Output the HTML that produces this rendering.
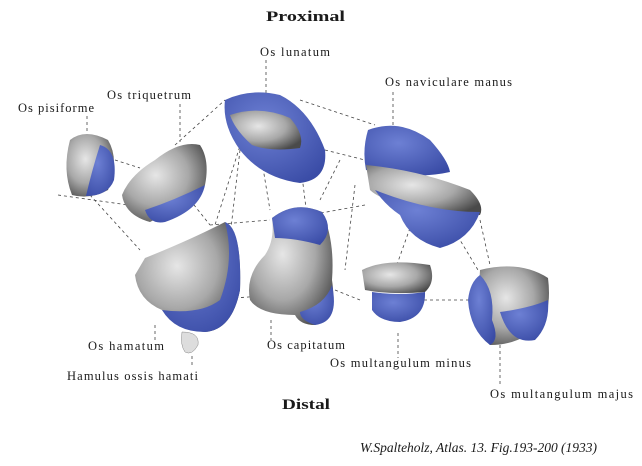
<!DOCTYPE html>
<html><head><style>
body{margin:0;background:#fff;}
svg{display:block}
text{font-family:"Liberation Serif",serif;font-size:12.5px;fill:#1a1a1a}
</style></head><body>
<svg width="642" height="466" viewBox="0 0 642 466">
<defs>
<radialGradient id="g" cx="40%" cy="40%" r="70%"><stop offset="0" stop-color="#e6e6e6"/><stop offset="0.55" stop-color="#a8a8a8"/><stop offset="1" stop-color="#4a4a4a"/></radialGradient>
<radialGradient id="b" cx="40%" cy="35%" r="75%"><stop offset="0" stop-color="#6d80d4"/><stop offset="1" stop-color="#3a4ca6"/></radialGradient>
</defs>
<text x="266" y="21" textLength="79" lengthAdjust="spacingAndGlyphs" style="font-weight:bold;font-size:15px">Proximal</text>
<text x="282" y="409" textLength="48" lengthAdjust="spacingAndGlyphs" style="font-weight:bold;font-size:15px">Distal</text>
<text x="360" y="452" textLength="237" lengthAdjust="spacingAndGlyphs" style="font-style:italic;font-size:13.5px">W.Spalteholz, Atlas. 13. Fig.193-200 (1933)</text>
<text x="260" y="56" textLength="70" lengthAdjust="spacing">Os lunatum</text>
<text x="385" y="86" textLength="127" lengthAdjust="spacing">Os naviculare manus</text>
<text x="107" y="99" textLength="84" lengthAdjust="spacing">Os triquetrum</text>
<text x="18" y="112" textLength="76" lengthAdjust="spacing">Os pisiforme</text>
<text x="88" y="350" textLength="76" lengthAdjust="spacing">Os hamatum</text>
<text x="67" y="380" textLength="131" lengthAdjust="spacing">Hamulus ossis hamati</text>
<text x="267" y="349" textLength="78" lengthAdjust="spacing">Os capitatum</text>
<text x="330" y="367" textLength="141" lengthAdjust="spacing">Os multangulum minus</text>
<text x="490" y="398" textLength="143" lengthAdjust="spacing">Os multangulum majus</text>
<g stroke="#444" stroke-width="0.8" stroke-dasharray="3,3" fill="none">
<path d="M87 116V135M180 104V142M266 60V95M393 92V128M58 195L128 205M115 160L140 168M90 195L140 250M175 145L225 100M300 100L375 125M325 150L365 160M190 200L210 225M245 130L215 225M240 150L225 280M260 150L270 210M300 160L310 240M340 160L320 200M365 205L310 215M210 225L270 220M235 298L262 296M355 185L345 270M335 290L360 300M400 300L470 300M420 200L395 270M430 190L478 270M480 220L490 265M398 333V358M155 325V340M192 356V368M271 320V340M500 345V385"/>
</g>
<path d="M70 140 Q85 128 108 140 Q120 160 108 190 Q90 200 72 195 Q62 170 70 140Z" fill="url(#g)"/>
<path d="M100 145 Q118 150 114 180 Q108 196 86 196 Q92 170 100 145Z" fill="url(#b)"/>
<path d="M155 160 Q180 140 200 145 Q210 160 205 185 Q185 205 150 222 Q125 215 122 195 Q130 175 155 160Z" fill="url(#g)"/>
<path d="M205 185 Q200 210 165 222 Q150 225 145 210 Q175 200 205 185Z" fill="url(#b)"/>
<path d="M225 100 Q250 88 280 95 Q310 110 325 150 Q328 180 300 183 Q262 178 240 150 Q222 125 225 100Z" fill="url(#b)"/>
<path d="M230 115 Q260 105 290 118 Q305 135 300 148 Q270 152 252 145 Q235 130 230 115Z" fill="url(#g)"/>
<path d="M368 130 Q400 118 430 140 Q448 160 450 172 Q415 180 366 170 Q362 150 368 130Z" fill="url(#b)"/>
<path d="M366 165 Q420 170 470 190 Q485 205 480 215 L420 210 Q380 200 370 190Z" fill="url(#g)"/>
<path d="M375 190 Q430 212 480 212 Q470 240 440 248 Q410 240 400 215 Q385 205 375 190Z" fill="url(#b)"/>
<path d="M145 258 Q190 240 225 222 Q242 230 240 290 Q232 330 205 332 Q175 330 162 310 Q138 300 135 275Z" fill="url(#g)"/>
<path d="M225 222 Q242 228 240 290 Q232 330 205 332 Q175 332 162 310 Q200 315 220 300 Q235 260 225 222Z" fill="url(#b)"/>
<path d="M182 332 Q200 332 198 345 Q192 356 185 352 Q180 345 182 332Z" fill="#ddd" stroke="#888" stroke-width="0.5"/>
<path d="M272 218 Q295 200 322 212 Q335 240 332 280 Q338 320 315 325 Q300 325 295 315 Q260 315 250 300 Q245 275 265 255 Q275 240 272 218Z" fill="url(#g)"/>
<path d="M272 218 Q295 200 322 212 Q335 230 320 245 Q295 238 275 238Z" fill="url(#b)"/>
<path d="M332 285 Q340 322 315 325 Q300 320 300 312 Q325 305 332 285Z" fill="url(#b)"/>
<path d="M362 270 Q385 258 430 265 Q436 282 425 292 Q390 295 365 290Z" fill="url(#g)"/>
<path d="M372 292 Q400 296 425 292 Q426 318 400 322 Q380 322 372 310Z" fill="url(#b)"/>
<path d="M480 270 Q520 260 548 278 Q552 310 540 325 Q520 345 490 345 Q475 330 478 305Z" fill="url(#g)"/>
<path d="M480 275 Q495 290 492 320 Q500 340 490 345 Q470 330 468 300 Q470 282 480 275Z" fill="url(#b)"/>
<path d="M500 312 Q530 308 548 300 Q550 325 535 340 Q510 345 500 312Z" fill="url(#b)"/>
</svg>
</body></html>
